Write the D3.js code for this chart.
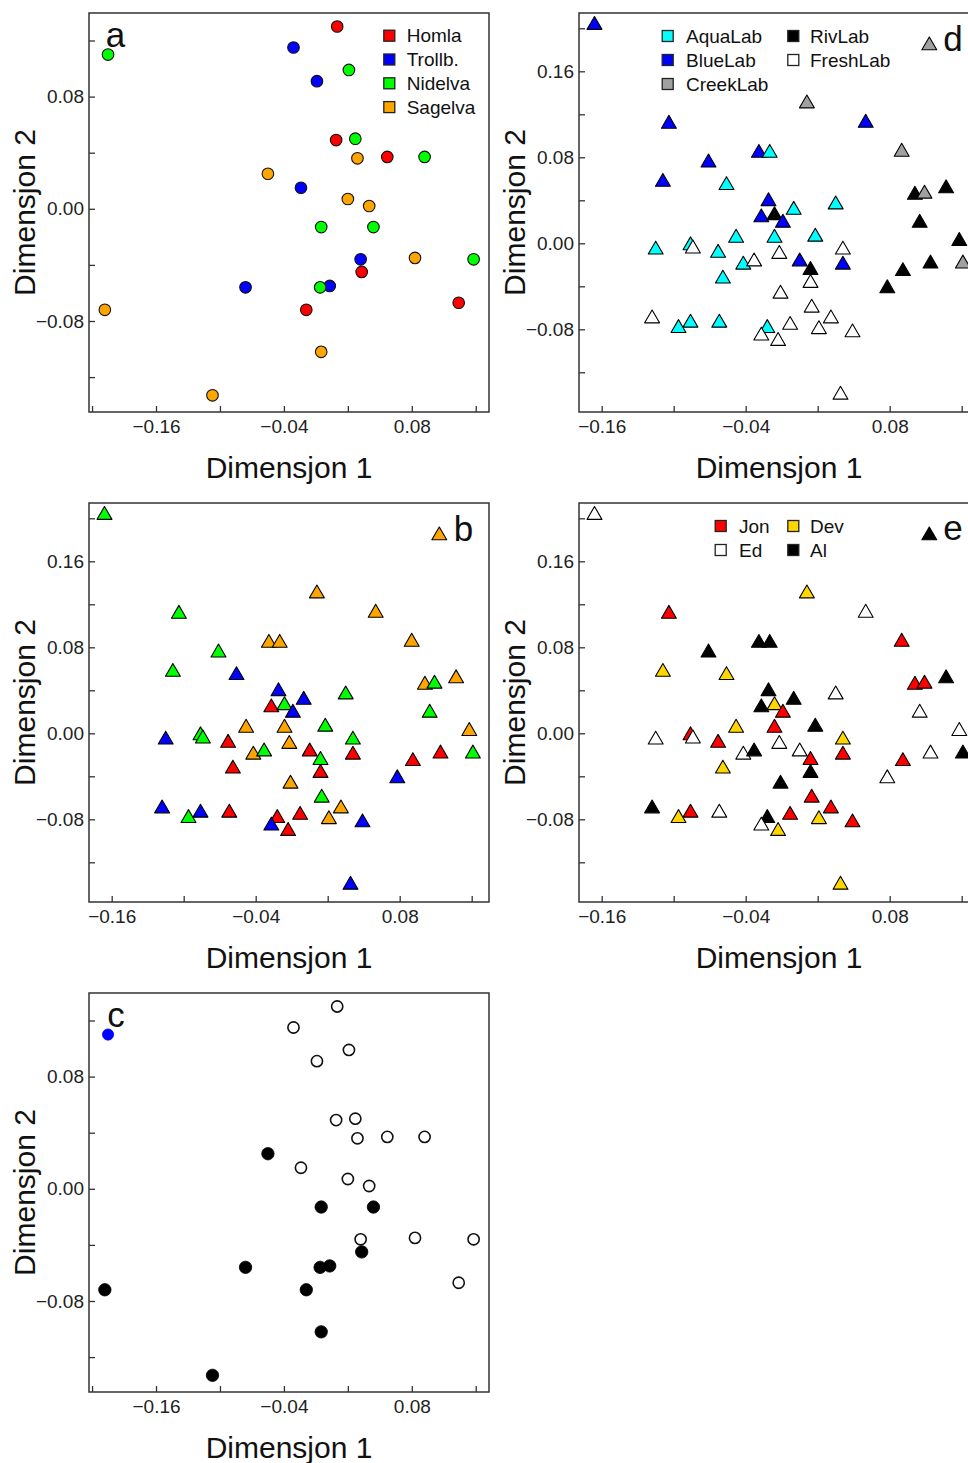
<!DOCTYPE html>
<html>
<head>
<meta charset="utf-8">
<script src="https://cdn.jsdelivr.net/npm/d3@7"></script>
<style>
  body { margin: 0; background: #fff; }
  svg { display: block; font-family: "Liberation Sans", Arial, sans-serif; }
</style>
</head>
<body>
<div id="wrapper"></div>
<script>
// circle ordination (panels a and c)
const circleX = [0.010, -0.031, -0.205, 0.021, -0.009, 0.009, 0.027, 0.029, 0.057, 0.092,
  -0.055, -0.024, 0.020, 0.040, -0.005, 0.044, 0.032, 0.083, 0.138, 0.033,
  -0.076, 0.003, -0.006, 0.124, -0.208, -0.019, -0.005, -0.107];
const circleY = [0.130, 0.115, 0.110, 0.099, 0.091, 0.049, 0.050, 0.036, 0.037, 0.037,
  0.025, 0.015, 0.007, 0.002, -0.013, -0.013, -0.036, -0.035, -0.036, -0.045,
  -0.056, -0.055, -0.056, -0.067, -0.072, -0.072, -0.102, -0.133];
const circleRiver = ['Homla', 'Trollb.', 'Nidelva', 'Nidelva', 'Trollb.', 'Homla', 'Nidelva', 'Sagelva', 'Homla', 'Nidelva',
  'Sagelva', 'Trollb.', 'Sagelva', 'Sagelva', 'Nidelva', 'Nidelva', 'Trollb.', 'Sagelva', 'Nidelva', 'Homla',
  'Trollb.', 'Trollb.', 'Nidelva', 'Homla', 'Sagelva', 'Homla', 'Sagelva', 'Sagelva'];
const circleType = ['open', 'open', 'extra', 'open', 'open', 'open', 'open', 'open', 'open', 'open',
  'filled', 'open', 'open', 'open', 'filled', 'filled', 'open', 'open', 'open', 'filled',
  'filled', 'filled', 'filled', 'open', 'filled', 'filled', 'filled', 'filled'];

// triangle ordination (panels b, d, e)
const triX = [-0.166, 0.113, 0.011, -0.104, 0.060, -0.029, -0.020, 0.090, -0.071, -0.109,
  -0.056, 0.127, 0.101, 0.109, -0.021, 0.035, 0.000, -0.027, -0.016, -0.009,
  0.105, -0.048, -0.016, 0.018, 0.138, -0.115, -0.086, -0.084, -0.063, -0.012,
  0.041, -0.042, -0.033, 0.005, 0.041, 0.114, 0.141, 0.014, 0.091, -0.059,
  0.014, 0.078, -0.011, 0.015, -0.118, 0.031, -0.062, -0.086, -0.096, -0.022,
  -0.003, 0.021, 0.049, -0.027, -0.013, 0.039];
const triY = [0.203, 0.184, 0.130, 0.111, 0.112, 0.084, 0.084, 0.085, 0.075, 0.057,
  0.054, 0.051, 0.045, 0.046, 0.039, 0.036, 0.031, 0.024, 0.026, 0.019,
  0.019, 0.005, 0.005, 0.006, 0.002, -0.006, -0.002, -0.005, -0.009, -0.010,
  -0.006, -0.020, -0.017, -0.017, -0.020, -0.019, -0.019, -0.025, -0.026, -0.033,
  -0.037, -0.042, -0.047, -0.060, -0.070, -0.070, -0.074, -0.074, -0.079, -0.079,
  -0.076, -0.080, -0.083, -0.086, -0.091, -0.141];
const triRiver = ['Nidelva', 'Sagelva', 'Sagelva', 'Nidelva', 'Sagelva', 'Sagelva', 'Sagelva', 'Sagelva', 'Nidelva', 'Nidelva',
  'Trollb.', 'Sagelva', 'Sagelva', 'Nidelva', 'Trollb.', 'Nidelva', 'Trollb.', 'Homla', 'Nidelva', 'Trollb.',
  'Nidelva', 'Sagelva', 'Sagelva', 'Nidelva', 'Sagelva', 'Trollb.', 'Nidelva', 'Nidelva', 'Homla', 'Sagelva',
  'Nidelva', 'Sagelva', 'Nidelva', 'Homla', 'Homla', 'Homla', 'Nidelva', 'Nidelva', 'Homla', 'Homla',
  'Homla', 'Trollb.', 'Sagelva', 'Nidelva', 'Trollb.', 'Sagelva', 'Homla', 'Trollb.', 'Nidelva', 'Homla',
  'Homla', 'Sagelva', 'Trollb.', 'Trollb.', 'Homla', 'Trollb.'];
const triLab = ['BlueLab', 'CreekLab', 'CreekLab', 'BlueLab', 'BlueLab', 'BlueLab', 'AquaLab', 'CreekLab', 'BlueLab', 'BlueLab',
  'AquaLab', 'RivLab', 'RivLab', 'CreekLab', 'BlueLab', 'AquaLab', 'AquaLab', 'BlueLab', 'RivLab', 'BlueLab',
  'RivLab', 'AquaLab', 'AquaLab', 'AquaLab', 'RivLab', 'AquaLab', 'AquaLab', 'FreshLab', 'AquaLab', 'FreshLab',
  'FreshLab', 'AquaLab', 'FreshLab', 'BlueLab', 'BlueLab', 'RivLab', 'CreekLab', 'RivLab', 'RivLab', 'AquaLab',
  'FreshLab', 'RivLab', 'FreshLab', 'FreshLab', 'FreshLab', 'FreshLab', 'AquaLab', 'AquaLab', 'AquaLab', 'AquaLab',
  'FreshLab', 'FreshLab', 'FreshLab', 'FreshLab', 'FreshLab', 'FreshLab'];
const triPerson = ['Ed', 'Al', 'Dev', 'Jon', 'Ed', 'Al', 'Al', 'Jon', 'Al', 'Dev',
  'Dev', 'Al', 'Jon', 'Jon', 'Al', 'Ed', 'Al', 'Al', 'Dev', 'Jon',
  'Ed', 'Dev', 'Jon', 'Al', 'Ed', 'Ed', 'Jon', 'Ed', 'Jon', 'Ed',
  'Dev', 'Ed', 'Al', 'Ed', 'Jon', 'Ed', 'Al', 'Jon', 'Jon', 'Dev',
  'Al', 'Ed', 'Al', 'Jon', 'Al', 'Jon', 'Ed', 'Jon', 'Dev', 'Al',
  'Jon', 'Dev', 'Jon', 'Ed', 'Dev', 'Dev'];

// legends
const riverNames = ['Homla', 'Trollb.', 'Nidelva', 'Sagelva'];
const riverColors = ['#ff0000', '#0000ff', '#00ff00', '#ffa500'];
const labNames = ['AquaLab', 'BlueLab', 'CreekLab', 'RivLab', 'FreshLab'];
const labColors = ['#00ffff', '#0000ff', '#a0a0a0', '#000000', '#ffffff'];
const personNames = ['Jon', 'Ed', 'Dev', 'Al'];
const personColors = ['#ff0000', '#ffffff', '#ffd700', '#000000'];

// axes
const circleXTicks = [-0.22, -0.16, -0.10, -0.04, 0.02, 0.08, 0.14];
const circleXLabels = [-0.16, -0.04, 0.08];
const circleYTicks = [-0.12, -0.08, -0.04, 0.00, 0.04, 0.08, 0.12];
const circleYLabels = [-0.08, 0.00, 0.08];
const triXTicks = [-0.16, -0.10, -0.04, 0.02, 0.08, 0.14];
const triXLabels = [-0.16, -0.04, 0.08];
const triYTicks = [-0.12, -0.08, -0.04, 0.00, 0.04, 0.08, 0.12, 0.16, 0.20];
const triYLabels = [-0.08, 0.00, 0.08, 0.16];

const xTitle = 'Dimensjon 1';
const yTitle = 'Dimensjon 2';

let dimensions = {
  width: 968,
  height: 1463,
  step: 490,
  box: { left: 89, right: 489, top: 13, bottom: 412 }
};

const fmt = d3.format('.2f');
const has = (arr, v) => arr.some(a => Math.abs(a - v) < 1e-9);

const wrapper = d3.select('#wrapper')
  .append('svg')
    .attr('width', dimensions.width)
    .attr('height', dimensions.height)
    .style('overflow', 'hidden');

const circleScales = {
  x: d3.scaleLinear().domain([-0.16, 0.08]).range([156, 411.8]),
  y: d3.scaleLinear().domain([-0.08, 0.08]).range([321, 96.6]),
  xTicks: circleXTicks, xLabels: circleXLabels, yTicks: circleYTicks, yLabels: circleYLabels
};
const triScales = {
  x: d3.scaleLinear().domain([-0.16, 0.08]).range([111.7, 399.7]),
  y: d3.scaleLinear().domain([-0.08, 0.16]).range([329.3, 71.3]),
  xTicks: triXTicks, xLabels: triXLabels, yTicks: triYTicks, yLabels: triYLabels
};

const circleStyle = {
  open: { fill: '#ffffff', stroke: '#111', sw: 1.6, r: 5.6 },
  filled: { fill: '#000000', stroke: '#000', sw: 0.8, r: 6.2 },
  extra: { fill: '#0000ff', stroke: '#0000ff', sw: 0.8, r: 5.6 }
};

// letter positions are local to each panel
const panels = [
  { letter: 'a', col: 0, row: 0, scales: circleScales, shape: 'circle',
    fill: i => riverColors[riverNames.indexOf(circleRiver[i])],
    letterPos: [115.5, 47],
    legend: { names: riverNames, colors: riverColors, cols: [[389.3, 406.7]], perCol: 4, y0: 35.7, dy: 23.8 } },
  { letter: 'd', col: 1, row: 0, scales: triScales, shape: 'triangle',
    fill: i => labColors[labNames.indexOf(triLab[i])],
    letterPos: [463, 50.5],
    legend: { names: labNames, colors: labColors, cols: [[177.7, 196], [303.3, 320]], perCol: 3, y0: 36, dy: 24 } },
  { letter: 'b', col: 0, row: 1, scales: triScales, shape: 'triangle',
    fill: i => riverColors[riverNames.indexOf(triRiver[i])],
    letterPos: [463.5, 51] },
  { letter: 'e', col: 1, row: 1, scales: triScales, shape: 'triangle',
    fill: i => personColors[personNames.indexOf(triPerson[i])],
    letterPos: [463, 50],
    legend: { names: personNames, colors: personColors, cols: [[230.7, 249], [303.3, 320]], perCol: 2, y0: 36, dy: 24 } },
  { letter: 'c', col: 0, row: 2, scales: circleScales, shape: 'plain',
    letterPos: [116, 47] }
];

const triangle = d3.symbol().type(d3.symbolTriangle).size(96);
const b = dimensions.box;

panels.forEach(p => {
  const s = p.scales;
  const bounds = wrapper.append('g')
      .attr('transform', `translate(${p.col * dimensions.step}, ${p.row * dimensions.step})`);

  // points
  if (p.shape === 'triangle') {
    bounds.append('g').selectAll('path')
      .data(d3.range(triX.length))
      .join('path')
        .attr('d', triangle)
        .attr('transform', i => `translate(${s.x(triX[i])}, ${s.y(triY[i])})`)
        .attr('fill', p.fill)
        .attr('stroke', '#000')
        .attr('stroke-width', 1.1)
        .attr('stroke-linejoin', 'round');
  } else if (p.shape === 'circle') {
    bounds.append('g').selectAll('circle')
      .data(d3.range(circleX.length))
      .join('circle')
        .attr('cx', i => s.x(circleX[i]))
        .attr('cy', i => s.y(circleY[i]))
        .attr('r', 5.8)
        .attr('fill', p.fill)
        .attr('stroke', '#111')
        .attr('stroke-width', 1.1);
  } else {
    bounds.append('g').selectAll('circle')
      .data(d3.range(circleX.length))
      .join('circle')
        .attr('cx', i => s.x(circleX[i]))
        .attr('cy', i => s.y(circleY[i]))
        .attr('r', i => circleStyle[circleType[i]].r)
        .attr('fill', i => circleStyle[circleType[i]].fill)
        .attr('stroke', i => circleStyle[circleType[i]].stroke)
        .attr('stroke-width', i => circleStyle[circleType[i]].sw);
  }

  // box
  bounds.append('rect')
      .attr('x', b.left)
      .attr('y', b.top)
      .attr('width', b.right - b.left)
      .attr('height', b.bottom - b.top)
      .attr('fill', 'none')
      .attr('stroke', '#333')
      .attr('stroke-width', 1.5);

  const xAxisGenerator = d3.axisBottom(s.x)
      .tickValues(s.xTicks)
      .tickSize(-6)
      .tickPadding(8)
      .tickFormat(d => has(s.xLabels, d) ? fmt(d) : '');
  const xAxis = bounds.append('g')
      .attr('transform', `translate(0, ${b.bottom})`)
      .call(xAxisGenerator);

  const yAxisGenerator = d3.axisLeft(s.y)
      .tickValues(s.yTicks)
      .tickSize(-6)
      .tickPadding(5)
      .tickFormat(d => has(s.yLabels, d) ? fmt(d) : '');
  const yAxis = bounds.append('g')
      .attr('transform', `translate(${b.left}, 0)`)
      .call(yAxisGenerator);

  [xAxis, yAxis].forEach(ax => {
    ax.select('.domain').remove();
    ax.attr('font-family', null).attr('font-size', 19);
    ax.selectAll('line').attr('stroke', '#333').attr('stroke-width', 1.3);
    ax.selectAll('text').attr('fill', '#222');
  });

  // titles
  bounds.append('text')
      .attr('x', (b.left + b.right) / 2)
      .attr('y', 478)
      .attr('text-anchor', 'middle')
      .attr('font-size', 30)
      .attr('fill', '#111')
      .text(xTitle);

  bounds.append('text')
      .attr('transform', `translate(35, ${(b.top + b.bottom) / 2}) rotate(-90)`)
      .attr('text-anchor', 'middle')
      .attr('font-size', 30)
      .attr('fill', '#111')
      .text(yTitle);

  bounds.append('text')
      .attr('x', p.letterPos[0])
      .attr('y', p.letterPos[1])
      .attr('text-anchor', 'middle')
      .attr('font-size', 35)
      .attr('fill', '#111')
      .text(p.letter);

  // legend
  if (p.legend) {
    const L = p.legend;
    const items = bounds.append('g').selectAll('g')
      .data(L.names)
      .join('g')
        .attr('transform', (d, i) => `translate(0, ${L.y0 + (i % L.perCol) * L.dy})`);
    items.append('rect')
        .attr('x', (d, i) => L.cols[Math.floor(i / L.perCol)][0] - 5.5)
        .attr('y', -5.5)
        .attr('width', 11)
        .attr('height', 11)
        .attr('fill', (d, i) => L.colors[i])
        .attr('stroke', '#222')
        .attr('stroke-width', 1.3);
    items.append('text')
        .attr('x', (d, i) => L.cols[Math.floor(i / L.perCol)][1])
        .attr('dy', '0.35em')
        .attr('font-size', 19)
        .attr('fill', '#111')
        .text(d => d);
  }
});
</script>
</body>
</html>
